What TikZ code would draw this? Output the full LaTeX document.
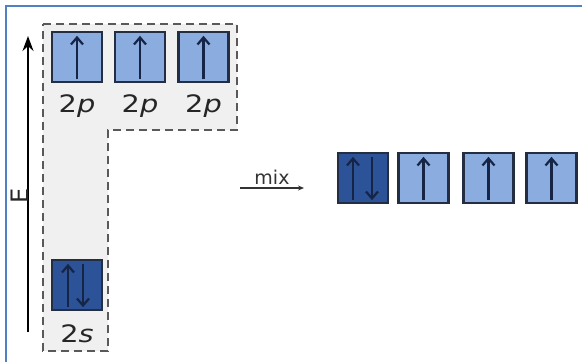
\documentclass[tikz,border=0pt]{standalone}
\usepackage{fontspec}
\setmainfont{DejaVu Sans}
\usetikzlibrary{arrows.meta}

\begin{document}
\begin{tikzpicture}[x=1pt, y=-1pt, >=Stealth,
    orbLight/.style={draw=orbEdge, line width=2.4pt, fill=orbPale, minimum size=50pt, inner sep=0pt},
    orbDark/.style={orbLight, fill=orbDeep},
    spin/.style={-{Straight Barb[length=7pt, width=12pt, line width=2.2pt]}, spinInk, line width=2.2pt},
    lbl/.style={font=\fontsize{24}{26}\selectfont, text=black!85, inner sep=0pt}]
    % --- CONFIGURATION ---
    \definecolor{orbPale}{RGB}{138, 172, 222}   % Bleu clair
    \definecolor{orbDeep}{RGB}{44, 82, 152}     % Bleu fonce
    \definecolor{orbEdge}{RGB}{36, 46, 66}
    \definecolor{spinInk}{RGB}{22, 36, 70}
    \definecolor{frameBlue}{RGB}{79, 129, 199}

    \useasboundingbox (0,0) rectangle (582,362);

    % Cadre
    \draw[frameBlue, line width=2pt] (6,362) -- (6,6) -- (582,6);

    % Zone en L (2s + 2p)
    \draw[fill=black!6, draw=black!65, line width=2.2pt, dash pattern=on 8pt off 5pt]
        (43,24) -- (237,24) -- (237,130) -- (108,130) -- (108,351) -- (43,351) -- cycle;

    % Axe des energies
    \coordinate (eLow) at (28,332);
    \coordinate (eHigh) at (28,36);
    \draw[-{Stealth[length=15pt, width=11pt]}, line width=1.8pt] (eLow) -- (eHigh);
    \node[lbl, rotate=90, anchor=south, yshift=-1pt] (eLabel) at (eLow |- 0,196) {E};

    % --- ORBITALES ATOMIQUES ---
    \node[orbLight] (p1) at (77,57) {};
    \node[orbLight] (p2) at (140,57) {};
    \node[orbLight] (p3) at (203.5,57) {};
    \node[orbDark] (s) at (77,285) {};

    \draw[spin] ([yshift=4pt]p1.south) -- ([yshift=-5pt]p1.north);
    \draw[spin] ([yshift=4pt]p2.south) -- ([yshift=-5pt]p2.north);
    \draw[spin] ([yshift=4pt]p3.south) -- ([yshift=-5pt]p3.north);
    \draw[spin] ([xshift=-9pt, yshift=4pt]s.south) -- ([xshift=-9pt, yshift=-5pt]s.north);
    \draw[spin] ([xshift=6pt, yshift=-5pt]s.north) -- ([xshift=6pt, yshift=4pt]s.south);

    \node[lbl] (lp1) at (77,106) {\scalebox{1.2}[1]{2\textit{p}}};
    \node[lbl] (lp2) at (140,106) {\scalebox{1.2}[1]{2\textit{p}}};
    \node[lbl] (lp3) at (203.5,106) {\scalebox{1.2}[1]{2\textit{p}}};
    \node[lbl] (ls) at (77,334) {\scalebox{1.2}[1]{2\textit{s}}};

    % Melange
    \coordinate (mixStart) at (240,188);
    \coordinate (mixEnd) at (304,188);
    \draw[-{Stealth[length=6pt, width=5pt]}, line width=1.2pt, black!80] (mixStart) -- (mixEnd)
        node[midway, above=0pt, font=\fontsize{19}{21}\selectfont, text=black!80] (mixLabel) {mix};

    % --- ORBITALES HYBRIDES ---
    \node[orbDark] (h1) at (363,178) {};
    \node[orbLight] (h2) at (423.5,178) {};
    \node[orbLight] (h3) at (488.5,178) {};
    \node[orbLight] (h4) at (551.5,178) {};

    \draw[spin] ([xshift=-10pt, yshift=4pt]h1.south) -- ([xshift=-10pt, yshift=-5pt]h1.north);
    \draw[spin] ([xshift=9pt, yshift=-5pt]h1.north) -- ([xshift=9pt, yshift=4pt]h1.south);
    \draw[spin] ([yshift=4pt]h2.south) -- ([yshift=-5pt]h2.north);
    \draw[spin] ([yshift=4pt]h3.south) -- ([yshift=-5pt]h3.north);
    \draw[spin] ([yshift=4pt]h4.south) -- ([yshift=-5pt]h4.north);
\end{tikzpicture}
\end{document}
